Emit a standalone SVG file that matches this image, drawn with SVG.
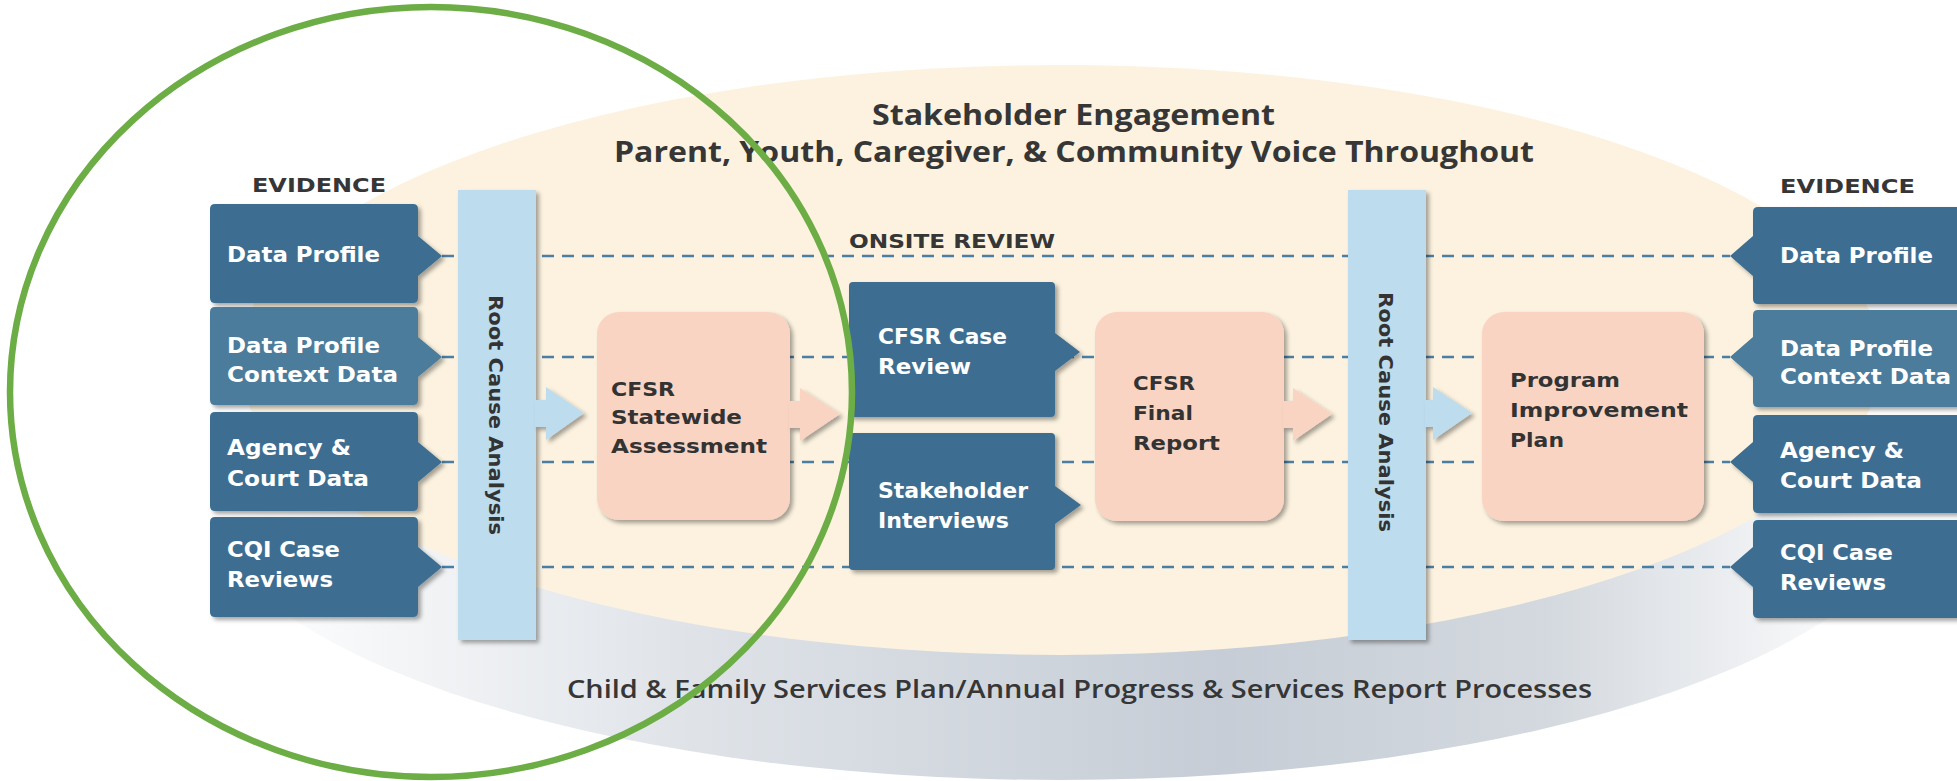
<svg xmlns="http://www.w3.org/2000/svg" width="1957" height="781" viewBox="0 0 1957 781">
<defs>
  <linearGradient id="grayGrad" gradientUnits="userSpaceOnUse" x1="230" y1="0" x2="1880" y2="0">
    <stop offset="0" stop-color="#ffffff"/>
    <stop offset="0.28" stop-color="#dfe3e8"/>
    <stop offset="0.6" stop-color="#c6cdd6"/>
    <stop offset="0.8" stop-color="#d4d9df"/>
    <stop offset="1" stop-color="#ffffff"/>
  </linearGradient>
  <filter id="sh" x="-10%" y="-10%" width="130%" height="130%">
    <feDropShadow dx="3" dy="3" stdDeviation="2" flood-color="#000000" flood-opacity="0.35"/>
  </filter>
  <style>
    .title { font-family: "Open Sans", "DejaVu Sans", sans-serif; font-weight: bold; fill: #363636; }
    .sub { font-family: "Open Sans", "DejaVu Sans", sans-serif; font-weight: 600; fill: #363636; }
    .hdr { font-family: "DejaVu Sans", "Liberation Sans", sans-serif; font-weight: bold; font-size: 20px; fill: #363636; }
    .wt { font-family: "DejaVu Sans", "Liberation Sans", sans-serif; font-weight: bold; font-size: 20.5px; fill: #ffffff; }
    .dk { font-family: "DejaVu Sans", "Liberation Sans", sans-serif; font-weight: bold; font-size: 20px; fill: #333333; }
    .box1 { fill: #3c6e91; filter: url(#sh); }
    .box2 { fill: #4b7b9b; filter: url(#sh); }
    .peach { fill: #f9d4c3; filter: url(#sh); }
    .bar { fill: #bddcee; filter: url(#sh); }
    .dash { stroke: #4a7ea2; stroke-width: 2.4; stroke-dasharray: 12 8; fill: none; }
  </style>
</defs>

<rect x="0" y="0" width="1957" height="781" fill="#ffffff"/>

<g id="background">
  <ellipse cx="1060" cy="480" rx="865" ry="300" fill="url(#grayGrad)"/>
  <ellipse cx="1060" cy="360" rx="821" ry="295" fill="#fcf2df"/>
</g>

<g id="titles">
  <text class="title" x="872" y="125" font-size="28" textLength="403" lengthAdjust="spacingAndGlyphs">Stakeholder Engagement</text>
  <text class="title" x="614" y="162" font-size="28" textLength="920" lengthAdjust="spacingAndGlyphs">Parent, Youth, Caregiver, &amp; Community Voice Throughout</text>
  <text class="hdr" x="252" y="192" textLength="134" lengthAdjust="spacingAndGlyphs">EVIDENCE</text>
  <text class="hdr" x="1780" y="193" textLength="135" lengthAdjust="spacingAndGlyphs">EVIDENCE</text>
  <text class="hdr" x="849" y="248" textLength="206" lengthAdjust="spacingAndGlyphs">ONSITE REVIEW</text>
  <text class="sub" x="567" y="698" font-size="25" textLength="1025" lengthAdjust="spacingAndGlyphs">Child &amp; Family Services Plan/Annual Progress &amp; Services Report Processes</text>
</g>

<g id="connectors">
  <line class="dash" x1="442" y1="256" x2="1730" y2="256"/>
  <line class="dash" x1="442" y1="357" x2="1730" y2="357"/>
  <line class="dash" x1="442" y1="462" x2="1730" y2="462"/>
  <line class="dash" x1="442" y1="567" x2="1730" y2="567"/>
</g>

<g id="evidence-left">
  <g id="ev-left-data-profile">
    <path class="box1" d="M215,204 H413 Q418,204 418,209 V236 L442,256 L418,276 V298 Q418,303 413,303 H215 Q210,303 210,298 V209 Q210,204 215,204 Z"/>
    <text class="wt" x="227" y="262" textLength="153" lengthAdjust="spacingAndGlyphs">Data Profile</text>
  </g>
  <g id="ev-left-context">
    <path class="box2" d="M215,307 H413 Q418,307 418,312 V337 L442,357 L418,377 V400 Q418,405 413,405 H215 Q210,405 210,400 V312 Q210,307 215,307 Z"/>
    <text class="wt" x="227" y="353" textLength="153" lengthAdjust="spacingAndGlyphs">Data Profile</text>
    <text class="wt" x="227" y="382" textLength="171" lengthAdjust="spacingAndGlyphs">Context Data</text>
  </g>
  <g id="ev-left-agency">
    <path class="box1" d="M215,412 H413 Q418,412 418,417 V442 L442,462 L418,482 V506 Q418,511 413,511 H215 Q210,511 210,506 V417 Q210,412 215,412 Z"/>
    <text class="wt" x="227" y="455" textLength="124" lengthAdjust="spacingAndGlyphs">Agency &amp;</text>
    <text class="wt" x="227" y="486" textLength="142" lengthAdjust="spacingAndGlyphs">Court Data</text>
  </g>
  <g id="ev-left-cqi">
    <path class="box1" d="M215,517 H413 Q418,517 418,522 V547 L442,567 L418,587 V612 Q418,617 413,617 H215 Q210,617 210,612 V522 Q210,517 215,517 Z"/>
    <text class="wt" x="227" y="557" textLength="113" lengthAdjust="spacingAndGlyphs">CQI Case</text>
    <text class="wt" x="227" y="587" textLength="106" lengthAdjust="spacingAndGlyphs">Reviews</text>
  </g>
</g>

<g id="rca-left">
  <rect class="bar" x="458" y="190" width="78" height="450"/>
  <polygon class="bar" points="535,400 546,400 546,387 584,413 546,440 546,427 535,427"/>
  <text class="dk" transform="translate(489,295) rotate(90)" x="0" y="0" font-size="21" textLength="240" lengthAdjust="spacingAndGlyphs">Root Cause Analysis</text>
</g>

<g id="statewide-assessment">
  <rect class="peach" x="597" y="312" width="193" height="208" rx="22" ry="22"/>
  <polygon class="peach" points="789,401 800,401 800,388 840,414 800,441 800,428 789,428"/>
  <text class="dk" x="611" y="396" textLength="64" lengthAdjust="spacingAndGlyphs">CFSR</text>
  <text class="dk" x="611" y="424" textLength="131" lengthAdjust="spacingAndGlyphs">Statewide</text>
  <text class="dk" x="611" y="453" textLength="156" lengthAdjust="spacingAndGlyphs">Assessment</text>
</g>

<g id="case-review">
  <path class="box1" d="M853,282 H1051 Q1055,282 1055,286 V333 L1080,352 L1055,371 V413 Q1055,417 1051,417 H853 Q849,417 849,413 V286 Q849,282 853,282 Z"/>
  <text class="wt" x="878" y="344" textLength="129" lengthAdjust="spacingAndGlyphs">CFSR Case</text>
  <text class="wt" x="878" y="374" textLength="93" lengthAdjust="spacingAndGlyphs">Review</text>
</g>

<g id="stakeholder-interviews">
  <path class="box1" d="M853,433 H1051 Q1055,433 1055,437 V486 L1081,505 L1055,524 V566 Q1055,570 1051,570 H853 Q849,570 849,566 V437 Q849,433 853,433 Z"/>
  <text class="wt" x="878" y="498" textLength="150" lengthAdjust="spacingAndGlyphs">Stakeholder</text>
  <text class="wt" x="878" y="528" textLength="131" lengthAdjust="spacingAndGlyphs">Interviews</text>
</g>

<g id="final-report">
  <rect class="peach" x="1095" y="312" width="189" height="209" rx="22" ry="22"/>
  <polygon class="peach" points="1283,401 1293,401 1293,388 1332,414 1293,441 1293,428 1283,428"/>
  <text class="dk" x="1133" y="390" textLength="62" lengthAdjust="spacingAndGlyphs">CFSR</text>
  <text class="dk" x="1133" y="420" textLength="60" lengthAdjust="spacingAndGlyphs">Final</text>
  <text class="dk" x="1133" y="450" textLength="87" lengthAdjust="spacingAndGlyphs">Report</text>
</g>

<g id="rca-right">
  <rect class="bar" x="1348" y="190" width="78" height="450"/>
  <polygon class="bar" points="1425,400 1433,400 1433,387 1472,413 1433,440 1433,427 1425,427"/>
  <text class="dk" transform="translate(1379,292) rotate(90)" x="0" y="0" font-size="21" textLength="240" lengthAdjust="spacingAndGlyphs">Root Cause Analysis</text>
</g>

<g id="improvement-plan">
  <rect class="peach" x="1482" y="312" width="222" height="209" rx="22" ry="22"/>
  <text class="dk" x="1510" y="387" textLength="110" lengthAdjust="spacingAndGlyphs">Program</text>
  <text class="dk" x="1510" y="417" textLength="178" lengthAdjust="spacingAndGlyphs">Improvement</text>
  <text class="dk" x="1510" y="447" textLength="54" lengthAdjust="spacingAndGlyphs">Plan</text>
</g>

<g id="evidence-right">
  <g id="ev-right-data-profile">
    <path class="box1" d="M1758,207 H1970 V304 H1758 Q1753,304 1753,299 V276 L1730,256 L1753,236 V212 Q1753,207 1758,207 Z"/>
    <text class="wt" x="1780" y="263" textLength="153" lengthAdjust="spacingAndGlyphs">Data Profile</text>
  </g>
  <g id="ev-right-context">
    <path class="box2" d="M1758,310 H1970 V407 H1758 Q1753,407 1753,402 V377 L1730,357 L1753,337 V315 Q1753,310 1758,310 Z"/>
    <text class="wt" x="1780" y="356" textLength="153" lengthAdjust="spacingAndGlyphs">Data Profile</text>
    <text class="wt" x="1780" y="384" textLength="171" lengthAdjust="spacingAndGlyphs">Context Data</text>
  </g>
  <g id="ev-right-agency">
    <path class="box1" d="M1758,415 H1970 V513 H1758 Q1753,513 1753,508 V482 L1730,462 L1753,442 V420 Q1753,415 1758,415 Z"/>
    <text class="wt" x="1780" y="458" textLength="124" lengthAdjust="spacingAndGlyphs">Agency &amp;</text>
    <text class="wt" x="1780" y="488" textLength="142" lengthAdjust="spacingAndGlyphs">Court Data</text>
  </g>
  <g id="ev-right-cqi">
    <path class="box1" d="M1758,520 H1970 V618 H1758 Q1753,618 1753,613 V587 L1730,567 L1753,547 V525 Q1753,520 1758,520 Z"/>
    <text class="wt" x="1780" y="560" textLength="113" lengthAdjust="spacingAndGlyphs">CQI Case</text>
    <text class="wt" x="1780" y="590" textLength="106" lengthAdjust="spacingAndGlyphs">Reviews</text>
  </g>
</g>

<g id="highlight">
  <ellipse cx="431" cy="392" rx="421" ry="385" fill="none" stroke="#6cad45" stroke-width="6.5"/>
</g>
</svg>
